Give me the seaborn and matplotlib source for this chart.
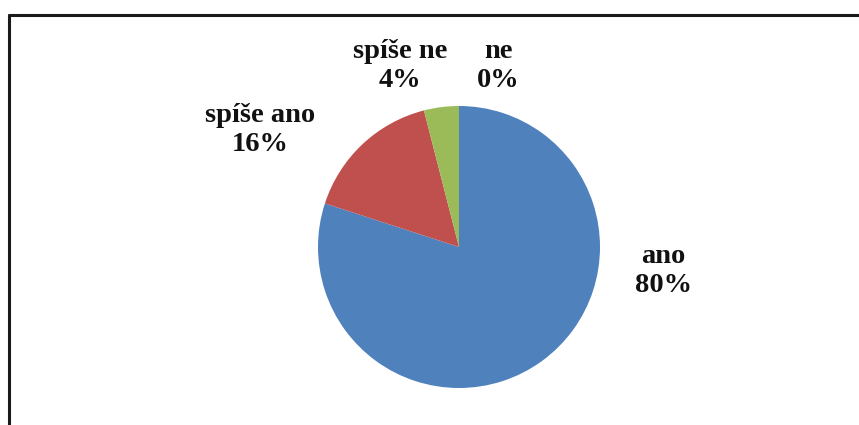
import matplotlib
matplotlib.use("Agg")
import matplotlib.pyplot as plt
import seaborn as sns
from matplotlib.lines import Line2D

sns.set_theme(style="white")
plt.rcParams['font.family'] = ['Liberation Serif', 'DejaVu Serif']

# Survey answers and their shares (percent)
categories = ["ano", "spíše ano", "spíše ne", "ne"]
shares = [80, 16, 4, 0]
colors = ["#4F81BD", "#C0504D", "#9BBB59", "#8064A2"]

# Label anchor points in pie data units (radius = 1)
label_x = [1.447, -1.411, -0.418, 0.277]
label_y = [-0.170, 0.830, 1.282, 1.282]

W, H = 859, 425
fig = plt.figure(figsize=(W / 100, H / 100), dpi=100)
fig.patch.set_facecolor("white")

cx, cy, r = 459, 247, 141
ax = fig.add_axes([(cx - r) / W, (H - cy - r) / H, 2 * r / W, 2 * r / H])
ax.pie(shares, colors=colors, startangle=90, counterclock=False, radius=1,
       wedgeprops=dict(linewidth=0))
ax.set_xlim(-1, 1)
ax.set_ylim(-1, 1)
ax.set_aspect("equal")
ax.axis("off")

for cat, val, x, y in zip(categories, shares, label_x, label_y):
    ax.text(x, y, f"{cat}\n{val}%", ha="center", va="center",
            fontsize=20.5, fontweight="bold", color="#111111",
            linespacing=1.22, clip_on=False)

# Chart-area border (only top and left edges fall inside the image)
fig.add_artist(Line2D([8.5 / W, 1.0], [1 - 14.5 / H, 1 - 14.5 / H],
                      transform=fig.transFigure, color="#1a1a1a", linewidth=2.2))
fig.add_artist(Line2D([8.5 / W, 8.5 / W], [0.0, 1 - 14.5 / H],
                      transform=fig.transFigure, color="#1a1a1a", linewidth=2.2))

fig.savefig("out.png", dpi=100, facecolor="white")
